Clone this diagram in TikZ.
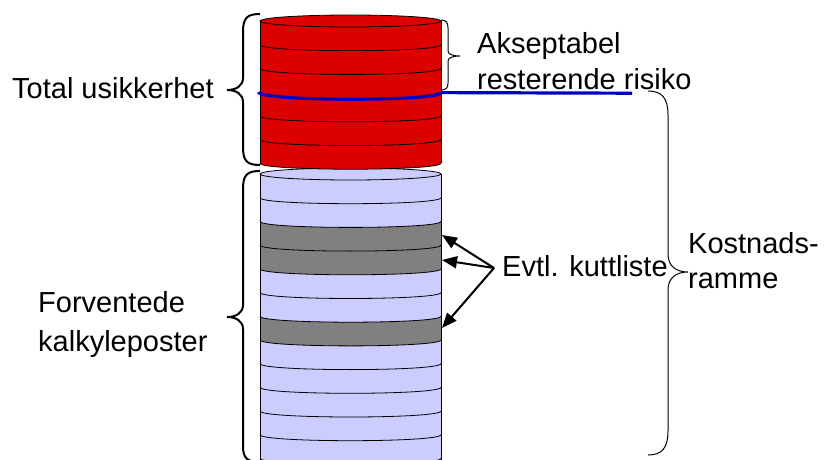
\documentclass[tikz,border=0pt]{standalone}
\usepackage{fontspec}
\setmainfont{Liberation Sans}
\usetikzlibrary{arrows.meta}
\definecolor{redc}{RGB}{221,0,0}
\definecolor{lavc}{RGB}{204,204,255}
\definecolor{grayc}{RGB}{128,128,128}
\definecolor{bluec}{RGB}{0,0,200}
\tikzset{
  lbl/.style={anchor=base west, inner sep=0pt, font=\fontsize{29}{34}\selectfont},
  outl/.style={draw=black, line width=0.8pt},
  thickbrace/.style={draw=black, line width=2pt},
  thinbrace/.style={draw=black, line width=1pt},
  blueline/.style={draw=bluec, line width=3.2pt},
  arr/.style={draw=black, line width=2pt, -{Triangle[length=15pt,width=12pt]}}
}
\begin{document}
\begin{tikzpicture}[x=1pt,y=-1pt]
\useasboundingbox (0,0) rectangle (831,460);
\begin{scope}
\clip (0,0) rectangle (831,460);
% lavender cylinder
\fill[lavc] (260,174) -- (260,458.4) .. controls (260,466.4) and (441,466.4) .. (441,458.4) -- (441,174) -- cycle;
\foreach \a/\b in {221.4/245.1, 245.1/268.8, 316.2/339.9}{
  \fill[grayc] (260,\a) .. controls (260,{\a+8}) and (441,{\a+8}) .. (441,\a) -- (441,\b) .. controls (441,{\b+8}) and (260,{\b+8}) .. (260,\b) -- cycle;
}
\foreach \y in {197.7,221.4,245.1,268.8,292.5,316.2,339.9,363.6,387.3,411,434.7,458.4}{
  \draw[outl] (260,\y) .. controls (260,{\y+8}) and (441,{\y+8}) .. (441,\y);
}
\draw[outl, fill=lavc] (350.5,174) ellipse [x radius=90.5pt, y radius=6pt];
\draw[outl] (260,174) -- (260,470);
\draw[outl] (441,174) -- (441,470);
\end{scope}
% red cylinder
\fill[redc] (260,21) -- (260,163.2) .. controls (260,171.2) and (441,171.2) .. (441,163.2) -- (441,21) -- cycle;
\foreach \y in {44.7,68.4,115.8,139.5,163.2}{
  \draw[outl] (260,\y) .. controls (260,{\y+8}) and (441,{\y+8}) .. (441,\y);
}
\draw[outl, fill=redc] (350.5,21) ellipse [x radius=90.5pt, y radius=6pt];
\draw[outl] (260,21) -- (260,163.2);
\draw[outl] (441,21) -- (441,163.2);
% blue line
\coordinate (bl) at (258.5,92.1);
\coordinate (br) at (441,92.6);
\coordinate (be) at (632,93.2);
\draw[blueline] (bl) .. controls (258.5,101.5) and (441,101.5) .. (br);
\draw[blueline] (br) -- (be);
% braces
\draw[thickbrace] (260,14) .. controls (247,14) and (243,18) .. (243,32) -- (243,78) .. controls (243,86) and (236,90) .. (227,90) .. controls (236,90) and (243,94) .. (243,102) -- (243,147) .. controls (243,161) and (247,165) .. (260,165);
\draw[thickbrace] (260,171) .. controls (247,171) and (243,175) .. (243,189) -- (243,305) .. controls (243,313) and (236,317) .. (227,317) .. controls (236,317) and (243,321) .. (243,329) -- (243,446) .. controls (243,458) and (247,462) .. (260,462);
\draw[thinbrace] (441,20) .. controls (446,20) and (448,22) .. (448,28) -- (448,51) .. controls (448,54) and (452,56) .. (460,56) .. controls (452,56) and (448,58) .. (448,61) -- (448,83) .. controls (448,88) and (446,90) .. (441,90);
\draw[thinbrace] (648,91) .. controls (662,91) and (668,98) .. (668,115) -- (668,254) .. controls (668,266) and (676,272) .. (688,272) .. controls (676,272) and (668,278) .. (668,290) -- (668,431) .. controls (668,448) and (662,455) .. (648,455);
% labels
\node[lbl] (tot) at (12,99) {Total usikkerhet};
\node[lbl] (ak1) at (477,54) {Akseptabel};
\node[lbl] (ak2) at (477,89) {resterende risiko};
\node[lbl] (ko1) at (688,253) {Kostnads-};
\node[lbl] (ko2) at (688,288) {ramme};
\node[lbl] (fo1) at (38,312) {Forventede};
\node[lbl] (fo2) at (38,351) {kalkyleposter};
\node[lbl] (kutt) at (502,276) {Evtl. kuttliste};
% arrows
\coordinate (kp) at (494,268);
\coordinate (t1) at (442,235);
\coordinate (t2) at (442,260);
\coordinate (t3) at (442,328);
\draw[arr] (kp) -- (t1);
\draw[arr] (kp) -- (t2);
\draw[arr] (kp) -- (t3);
\end{tikzpicture}
\end{document}
